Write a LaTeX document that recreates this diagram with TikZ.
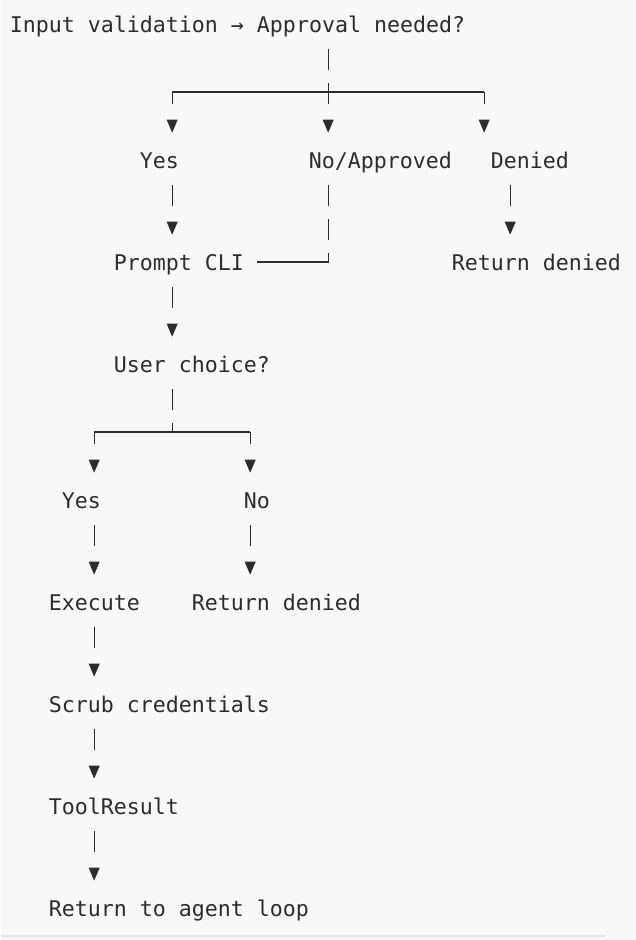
\documentclass[tikz,border=0pt]{standalone}
\usepackage{fontspec}
\setmonofont{DejaVu Sans Mono}
\usepackage{xcolor}
\usetikzlibrary{arrows.meta,positioning,calc}
\definecolor{ink}{HTML}{2C2C2C}
\definecolor{paper}{HTML}{F8F8F8}
\definecolor{edge}{HTML}{E2E4E7}
\tikzset{
    txt/.style={anchor=base west, inner sep=0pt, text=ink,
        font=\ttfamily\fontsize{16.2}{20}\selectfont,
        text height=18.75pt, text depth=6.75pt},
    line/.style={draw=ink, line width=1pt},
    stem/.style={line, shorten <=6pt, dash pattern=on 15.75pt off 9.75pt},
    down/.style={line, shorten <=6pt, shorten >=7.5pt,
        dash pattern=on 15.75pt off 15pt,
        -{Triangle[length=9.75pt,width=8pt]}},
    fork/.style={line, shorten >=7.5pt, dash pattern=on 9pt off 15pt,
        -{Triangle[length=9.75pt,width=8pt]}}
}

\begin{document}
\begin{tikzpicture}[x=0.75pt,y=-0.75pt]
    \fill[paper] (0,0) rectangle (635,940);
    \draw[edge, line width=1pt] (0,936) -- (605,936);

    % columns of the connectors
    \coordinate (c6) at (93.5,0);
    \coordinate (c12) at (171.5,0);
    \coordinate (c18) at (249.5,0);
    \coordinate (c24) at (327.5,0);
    \coordinate (c36) at (483.5,0);
    \coordinate (c38) at (509.5,0);

    % text
    \node[txt] (check) at (9,32) {Input validation → Approval needed?};
    \node[txt] (yesA) at (139,168) {Yes};
    \node[txt] (approved) at (308,168) {No/Approved};
    \node[txt] (denied) at (490,168) {Denied};
    \node[txt] (prompt) at (113,270) {Prompt CLI};
    \node[txt] (retA) at (451,270) {Return denied};
    \node[txt] (choice) at (113,372) {User choice?};
    \node[txt] (yesB) at (61,508) {Yes};
    \node[txt] (no) at (243,508) {No};
    \node[txt] (execute) at (48,610) {Execute};
    \node[txt] (retB) at (191,610) {Return denied};
    \node[txt] (scrub) at (48,712) {Scrub credentials};
    \node[txt] (result) at (48,814) {ToolResult};
    \node[txt] (back) at (48,916) {Return to agent loop};

    % first split
    \coordinate (split) at (327.5,92);
    \draw[stem] (c24 |- check.south) -- (split);
    \draw[line] (c12 |- split) -- (c36 |- split);
    \draw[fork] (c12 |- split) -- (c12 |- yesA.north);
    \draw[fork] (split) -- (c24 |- approved.north);
    \draw[fork] (c36 |- split) -- (c36 |- denied.north);

    \draw[down] (c12 |- yesA.south) -- (c12 |- prompt.north);
    \draw[down] (c38 |- denied.south) -- (c38 |- retA.north);
    \draw[line, shorten <=6pt, shorten >=9.75pt,
        dash pattern=on 15.75pt off 9.75pt on 15.75pt off 9.75pt on 200pt]
        (c24 |- approved.south) -- (c24 |- prompt.east) -- (prompt.east);

    \draw[down] (c12 |- prompt.south) -- (c12 |- choice.north);

    % second split
    \coordinate (pick) at (171.5,432);
    \draw[stem] (c12 |- choice.south) -- (pick);
    \draw[line] (c6 |- pick) -- (c18 |- pick);
    \draw[fork] (c6 |- pick) -- (c6 |- yesB.north);
    \draw[fork] (c18 |- pick) -- (c18 |- no.north);

    \draw[down] (c6 |- yesB.south) -- (c6 |- execute.north);
    \draw[down] (c18 |- no.south) -- (c18 |- retB.north);
    \draw[down] (c6 |- execute.south) -- (c6 |- scrub.north);
    \draw[down] (c6 |- scrub.south) -- (c6 |- result.north);
    \draw[down] (c6 |- result.south) -- (c6 |- back.north);
\end{tikzpicture}
\end{document}
